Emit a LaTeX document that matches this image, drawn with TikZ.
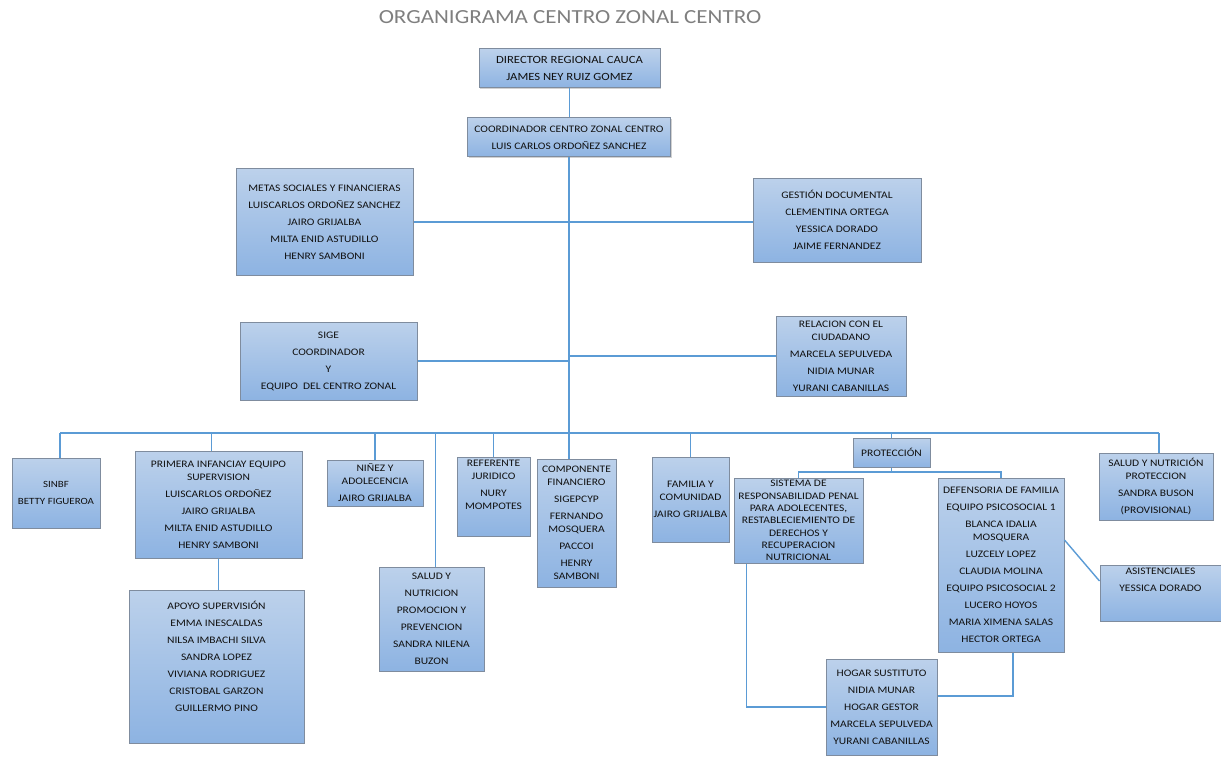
\documentclass[tikz,border=0pt]{standalone}
\usepackage{fontspec}
\setmainfont{Carlito}[FakeStretch=1.15]
\usetikzlibrary{shadows}
\definecolor{boxtop}{HTML}{BCD1EB}
\definecolor{boxbot}{HTML}{8DB3E2}
\definecolor{boxedge}{HTML}{7F8C9E}
\definecolor{linec}{HTML}{5B9BD5}
\definecolor{titlec}{HTML}{7F7F7F}
\definecolor{txt}{HTML}{101010}
\newcommand{\lsep}{\\[4pt]}
\begin{document}
\begin{tikzpicture}[x=1pt,y=-1pt,
  box/.style={draw=boxedge, line width=1pt, top color=boxtop, bottom color=boxbot,
    align=center, inner xsep=1pt, inner ysep=2pt, text=txt,
    font=\fontsize{10}{13}\selectfont,
    drop shadow={shadow xshift=1.2pt, shadow yshift=-1.2pt, opacity=0.3, fill=black!60}},
  conn/.style={draw=linec, line width=1.4pt}]
\useasboundingbox (0,0) rectangle (1221,757);

\node[font=\fontsize{20}{24}\selectfont, text=titlec] (title) at (570,17) {ORGANIGRAMA CENTRO ZONAL CENTRO};

\node[box, minimum width=181pt, minimum height=39pt, font=\fontsize{11}{14}\selectfont] (dir) at (569.5,68.5)
  {DIRECTOR REGIONAL CAUCA\\[3pt] JAMES NEY RUIZ GOMEZ};
\node[box, minimum width=203pt, minimum height=39pt] (coord) at (569,137.5)
  {COORDINADOR CENTRO ZONAL CENTRO\lsep LUIS CARLOS ORDOÑEZ SANCHEZ};
\node[box, minimum width=177pt, minimum height=106pt] (metas) at (324.5,222)
  {METAS SOCIALES Y FINANCIERAS\lsep LUISCARLOS ORDOÑEZ SANCHEZ\lsep JAIRO GRIJALBA\lsep MILTA ENID ASTUDILLO\lsep HENRY SAMBONI};
\node[box, minimum width=168pt, minimum height=84pt] (gest) at (837,220)
  {GESTIÓN DOCUMENTAL\lsep CLEMENTINA ORTEGA\lsep YESSICA DORADO\lsep JAIME FERNANDEZ};
\node[box, minimum width=177pt, minimum height=78pt] (sige) at (328.5,361)
  {SIGE\lsep COORDINADOR\lsep Y\lsep EQUIPO\ \ DEL CENTRO ZONAL};
\node[box, minimum width=130pt, minimum height=80pt] (rel) at (841,356)
  {RELACION CON EL\\ CIUDADANO\lsep MARCELA SEPULVEDA\lsep NIDIA MUNAR\lsep YURANI CABANILLAS};

\node[box, minimum width=88pt, minimum height=70pt, font=\fontsize{9.5}{13}\selectfont] (sinbf) at (56,493)
  {SINBF\lsep BETTY FIGUEROA};
\node[box, minimum width=167pt, minimum height=107pt] (prim) at (218.5,504.5)
  {PRIMERA INFANCIAY EQUIPO\\ SUPERVISION\lsep LUISCARLOS ORDOÑEZ\lsep JAIRO GRIJALBA\lsep MILTA ENID ASTUDILLO\lsep HENRY SAMBONI};
\node[box, minimum width=175pt, minimum height=153pt, text depth=20pt] (apoyo) at (216.5,666.5)
  {APOYO SUPERVISIÓN\lsep EMMA INESCALDAS\lsep NILSA IMBACHI SILVA\lsep SANDRA LOPEZ\lsep VIVIANA RODRIGUEZ\lsep CRISTOBAL GARZON\lsep GUILLERMO PINO};
\node[box, minimum width=96pt, minimum height=46pt] (ninez) at (375,483)
  {NIÑEZ Y\\ ADOLECENCIA\lsep JAIRO GRIJALBA};
\node[box, minimum width=105pt, minimum height=104pt] (saludl) at (431.5,619)
  {SALUD Y\lsep NUTRICION\lsep PROMOCION Y\lsep PREVENCION\lsep SANDRA NILENA\lsep BUZON};
\node[box, minimum width=73pt, minimum height=79pt, text depth=23pt] (ref) at (493.5,496.5)
  {REFERENTE\\ JURIDICO\lsep NURY\\ MOMPOTES};
\node[box, minimum width=79pt, minimum height=128pt] (comp) at (576.5,523)
  {COMPONENTE\\ FINANCIERO\lsep SIGEPCYP\lsep FERNANDO\\ MOSQUERA\lsep PACCOI\lsep HENRY\\ SAMBONI};
\node[box, minimum width=77pt, minimum height=85pt] (fam) at (690.5,499.5)
  {FAMILIA Y\\ COMUNIDAD\lsep JAIRO GRIJALBA};
\node[box, minimum width=77pt, minimum height=29pt] (prot) at (891.5,452.5)
  {PROTECCIÓN};
\node[box, minimum width=129pt, minimum height=85pt, inner ysep=0pt, font=\fontsize{10}{12.3}\selectfont] (sist) at (798.5,520.5)
  {SISTEMA DE\\ RESPONSABILIDAD PENAL\\ PARA ADOLECENTES,\\ RESTABLECIEMIENTO DE\\ DERECHOS Y\\ RECUPERACION\\ NUTRICIONAL};
\node[box, minimum width=126pt, minimum height=174pt] (def) at (1001,565)
  {DEFENSORIA DE FAMILIA\lsep EQUIPO PSICOSOCIAL 1\lsep BLANCA IDALIA\\ MOSQUERA\lsep LUZCELY LOPEZ\lsep CLAUDIA MOLINA\lsep EQUIPO PSICOSOCIAL 2\lsep LUCERO HOYOS\lsep MARIA XIMENA SALAS\lsep HECTOR ORTEGA};
\node[box, minimum width=114pt, minimum height=67pt] (saludr) at (1156,486.5)
  {SALUD Y NUTRICIÓN\\ PROTECCION\lsep SANDRA BUSON\lsep (PROVISIONAL)};
\node[box, minimum width=121pt, minimum height=56pt, text depth=27pt] (asis) at (1160.5,593)
  {ASISTENCIALES\lsep YESSICA DORADO};
\node[box, minimum width=111pt, minimum height=96pt] (hogar) at (881.5,707)
  {HOGAR SUSTITUTO\lsep NIDIA MUNAR\lsep HOGAR GESTOR\lsep MARCELA SEPULVEDA\lsep YURANI CABANILLAS};

% connectors
\coordinate (bus) at (569,433);
\coordinate (pj) at (892,472);
\draw[conn] (dir.south) -- (dir.south |- coord.north);
\draw[conn] (coord.south) -- (coord.south |- comp.north);
\draw[conn] (metas.east) -- (metas.east -| coord.south);
\draw[conn] ([yshift=-2pt]gest.west) -- ([yshift=-2pt]gest.west -| coord.south);
\draw[conn] (sige.east) -- (sige.east -| coord.south);
\draw[conn] (rel.west) -- (rel.west -| coord.south);
\draw[conn] ([xshift=4pt]sinbf.north |- bus) -- ([xshift=3pt]saludr.north |- bus);
\draw[conn] ([xshift=4pt]sinbf.north) -- ([xshift=4pt]sinbf.north |- bus);
\draw[conn] ([xshift=-7pt]prim.north) -- ([xshift=-7pt]prim.north |- bus);
\draw[conn] (ninez.north) -- (ninez.north |- bus);
\draw[conn] ([xshift=4pt]saludl.north) -- ([xshift=4pt]saludl.north |- bus);
\draw[conn] (ref.north) -- (ref.north |- bus);
\draw[conn] (fam.north) -- (fam.north |- bus);
\draw[conn] (prot.north) -- (prot.north |- bus);
\draw[conn] ([xshift=3pt]saludr.north) -- ([xshift=3pt]saludr.north |- bus);
\draw[conn] (prim.south) -- (prim.south |- apoyo.north);
\draw[conn] (prot.south) -- (prot.south |- pj);
\draw[conn] (sist.north) -- (sist.north |- pj) -- (def.north |- pj) -- (def.north);
\draw[conn] ([yshift=25pt]def.east) -- ([yshift=12pt]asis.west);
\draw[conn] ([xshift=-52pt]sist.south) |- (hogar.west);
\draw[conn] ([xshift=12pt]def.south) |- ([yshift=11pt]hogar.east);
\end{tikzpicture}
\end{document}
